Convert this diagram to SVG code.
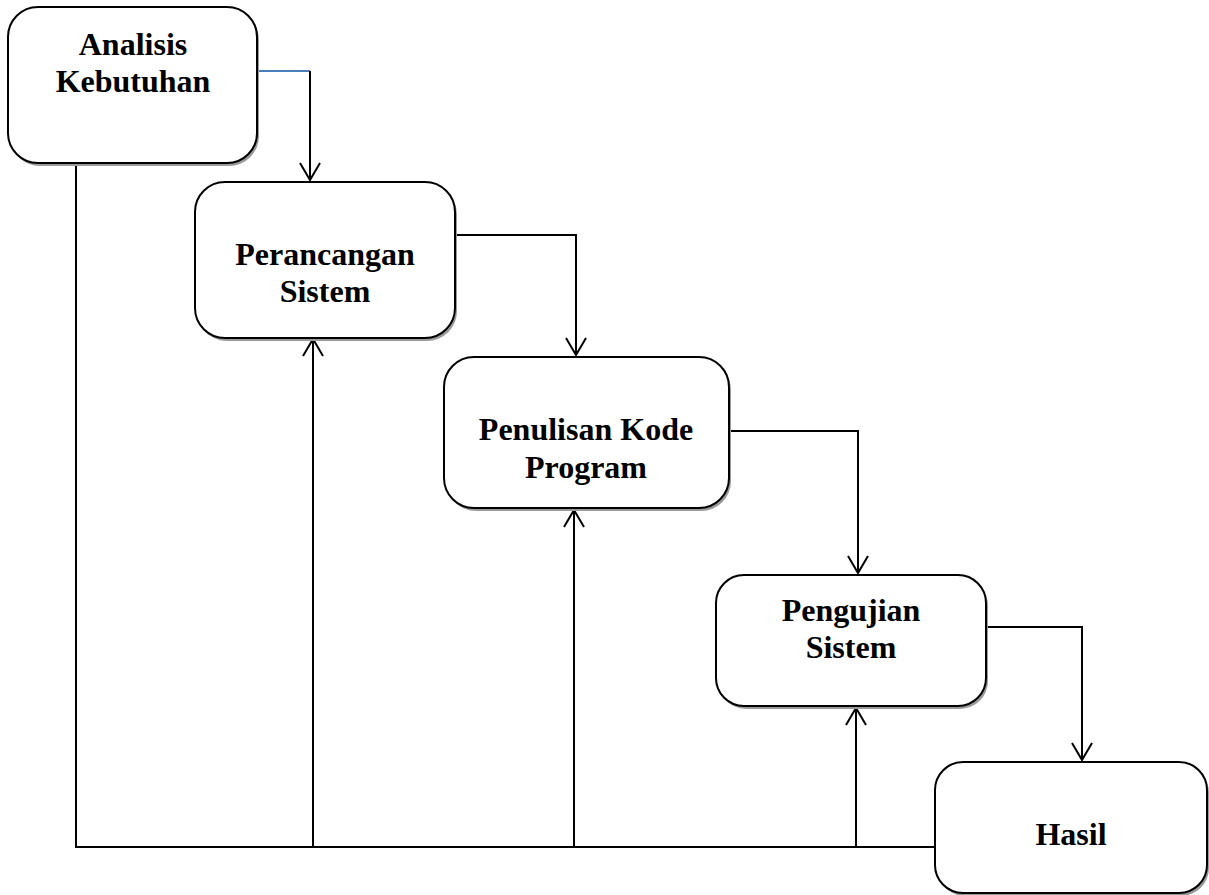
<svg xmlns="http://www.w3.org/2000/svg" width="1209" height="895" viewBox="0 0 1209 895">
<style>
.box{fill:#fff;stroke:#000;stroke-width:2}
.sh{fill:#9a9a9a;stroke:none}
.lbl{font-family:"Liberation Serif","Times New Roman",serif;font-weight:bold;font-size:32px;fill:#000;text-anchor:middle}
.ln{fill:none;stroke:#000;stroke-width:2}
</style>
<defs>
<marker id="arr" viewBox="0 0 20 22" refX="19" refY="11" markerWidth="20" markerHeight="22" orient="auto" markerUnits="userSpaceOnUse">
<path d="M2,1 L19,11 L2,21" fill="none" stroke="#000" stroke-width="2"/>
</marker>
</defs>
<rect width="1209" height="895" fill="#fff"/>
<g id="connectors">
<path class="ln" d="M76,163 V847 H935"/>
<path class="ln" d="M313,847 V339" marker-end="url(#arr)"/>
<path class="ln" d="M574,847 V510" marker-end="url(#arr)"/>
<path class="ln" d="M856,847 V708" marker-end="url(#arr)"/>
<path d="M257,71 H310" fill="none" stroke="#4a7ebb" stroke-width="2"/>
<path class="ln" d="M310,71 V180" marker-end="url(#arr)"/>
<path class="ln" d="M455,235 H576 V355" marker-end="url(#arr)"/>
<path class="ln" d="M729,431 H858 V573" marker-end="url(#arr)"/>
<path class="ln" d="M986,627 H1082 V760" marker-end="url(#arr)"/>
</g>
<g id="n1">
<rect class="sh" x="10" y="10" width="249" height="156" rx="30"/>
<rect class="box" x="8" y="7" width="249" height="156" rx="30"/>
<text class="lbl" x="133" y="55">Analisis</text>
<text class="lbl" x="133" y="92">Kebutuhan</text>
</g>
<g id="n2">
<rect class="sh" x="197" y="185" width="260" height="156" rx="30"/>
<rect class="box" x="195" y="182" width="260" height="156" rx="30"/>
<text class="lbl" x="325" y="265">Perancangan</text>
<text class="lbl" x="325" y="302">Sistem</text>
</g>
<g id="n3">
<rect class="sh" x="446" y="360" width="285" height="151" rx="30"/>
<rect class="box" x="444" y="357" width="285" height="151" rx="30"/>
<text class="lbl" x="586" y="440">Penulisan Kode</text>
<text class="lbl" x="586" y="478">Program</text>
</g>
<g id="n4">
<rect class="sh" x="718" y="578" width="270" height="131" rx="28"/>
<rect class="box" x="716" y="575" width="270" height="131" rx="28"/>
<text class="lbl" x="851" y="621">Pengujian</text>
<text class="lbl" x="851" y="658">Sistem</text>
</g>
<g id="n5">
<rect class="sh" x="937" y="765" width="272" height="131" rx="28"/>
<rect class="box" x="935" y="762" width="272" height="131" rx="28"/>
<text class="lbl" x="1071" y="845">Hasil</text>
</g>
</svg>
